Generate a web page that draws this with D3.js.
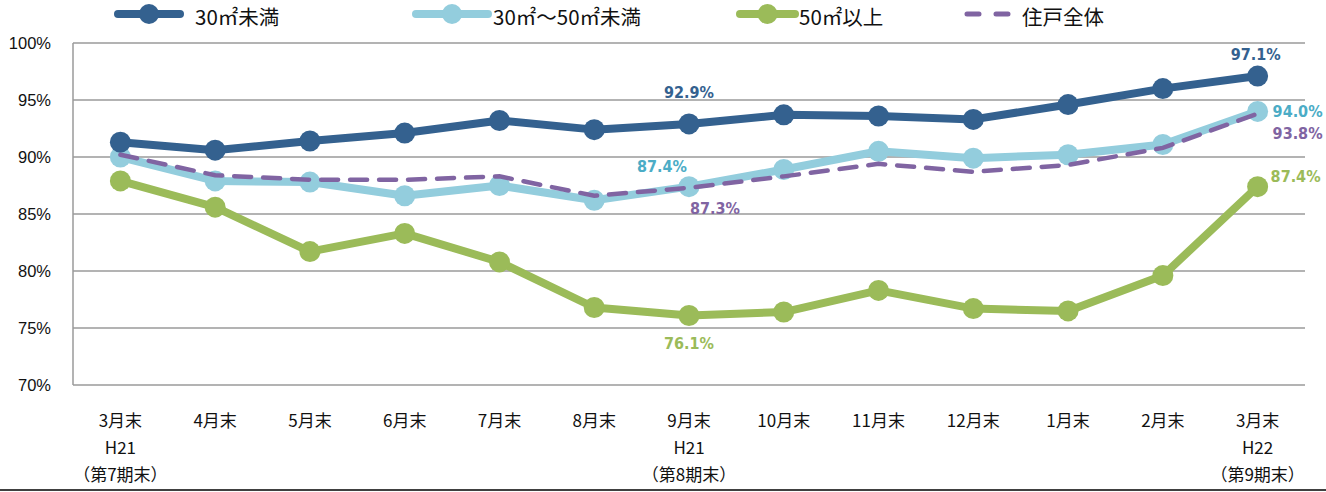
<!DOCTYPE html>
<html>
<head>
<meta charset="utf-8">
<script src="https://cdn.jsdelivr.net/npm/d3@7"></script>
<style>
  html, body { margin: 0; padding: 0; background: #fff; }
  svg { display: block; }
</style>
</head>
<body>
<svg id="chart" width="1326" height="492"></svg>
<script>
// Month-end labels (three text lines each)
const months = ["3月末", "4月末", "5月末", "6月末", "7月末", "8月末", "9月末", "10月末", "11月末", "12月末", "1月末", "2月末", "3月末"];
const yearLine = ["H21", "", "", "", "", "", "H21", "", "", "", "", "", "H22"];
const periodLine = ["（第7期末）", "", "", "", "", "", "（第8期末）", "", "", "", "", "", "（第9期末）"];

// Occupancy rates (%) by unit size
const under30 = [91.3, 90.6, 91.4, 92.1, 93.2, 92.4, 92.9, 93.7, 93.6, 93.3, 94.6, 96.0, 97.1];
const from30to50 = [90.0, 87.9, 87.8, 86.6, 87.5, 86.2, 87.4, 88.9, 90.5, 89.9, 90.2, 91.1, 94.0];
const over50 = [87.9, 85.6, 81.7, 83.3, 80.8, 76.8, 76.1, 76.4, 78.3, 76.7, 76.5, 79.6, 87.4];
const allUnits = [90.2, 88.4, 88.0, 88.0, 88.3, 86.6, 87.3, 88.3, 89.4, 88.7, 89.3, 90.8, 93.8];

const yTicks = [70, 75, 80, 85, 90, 95, 100];

(function () {
const svg = d3.select("#chart");
const plotLeft = 73, plotRight = 1305, plotTop = 43, plotBottom = 385;

const x = d3.scaleBand().domain(d3.range(months.length)).range([plotLeft, plotRight]);
const cx = i => x(i) + x.bandwidth() / 2;
const y = d3.scaleLinear().domain([70, 100]).range([plotBottom, plotTop]);

const gridColor = "#9a9a9a";
const fontJP = "'Noto Sans CJK JP', 'Noto Sans', sans-serif";

// Gridlines
svg.append("g").selectAll("line").data(yTicks).join("line")
  .attr("x1", plotLeft).attr("x2", plotRight)
  .attr("y1", d => y(d)).attr("y2", d => y(d))
  .attr("stroke", gridColor).attr("stroke-width", 1.5);

// Y axis line
svg.append("line").attr("x1", plotLeft).attr("x2", plotLeft).attr("y1", plotTop).attr("y2", plotBottom)
  .attr("stroke", gridColor).attr("stroke-width", 1.5);

// Y tick labels
svg.append("g").selectAll("text").data(yTicks).join("text")
  .attr("x", 51).attr("y", d => y(d) + 6)
  .attr("text-anchor", "end")
  .attr("font-family", "'Liberation Sans', Arial, sans-serif")
  .attr("font-size", 16.5)
  .attr("fill", "#111")
  .text(d => d + "%");

// X labels
const xl = svg.append("g").attr("font-family", fontJP).attr("font-size", 17).attr("fill", "#111").attr("text-anchor", "middle");
months.forEach((m, i) => {
  const t = xl.append("text").attr("x", cx(i)).attr("y", 427);
  t.append("tspan").attr("x", cx(i)).text(m);
  if (yearLine[i]) t.append("tspan").attr("x", cx(i)).attr("dy", 27).text(yearLine[i]);
  if (periodLine[i]) t.append("tspan").attr("x", cx(i)).attr("dy", 27).text(periodLine[i]);
});

// Bottom frame line
svg.append("line").attr("x1", 0).attr("x2", 1326).attr("y1", 490).attr("y2", 490)
  .attr("stroke", "#000").attr("stroke-width", 1.5);

const line = d3.line().x((d, i) => cx(i)).y(d => y(d));

const series = [
  { name: "30㎡未満", values: under30, color: "#34618f" },
  { name: "30㎡～50㎡未満", values: from30to50, color: "#93cddd" },
  { name: "50㎡以上", values: over50, color: "#9bbb59" }
];

// Solid series with markers (drawn bottom-up so the top series stays on top)
[series[2], series[1], series[0]].forEach(s => {
  svg.append("path").datum(s.values).attr("d", line)
    .attr("fill", "none").attr("stroke", s.color).attr("stroke-width", 8)
    .attr("stroke-linejoin", "round");
  svg.append("g").selectAll("circle").data(s.values).join("circle")
    .attr("cx", (d, i) => cx(i)).attr("cy", d => y(d)).attr("r", 10.5)
    .attr("fill", s.color);
});

// Overall (dashed)
svg.append("path").datum(allUnits).attr("d", line)
  .attr("fill", "none").attr("stroke", "#8064a2").attr("stroke-width", 4.5)
  .attr("stroke-dasharray", "17,12").attr("stroke-linecap", "round");

// Value labels
const labelFont = "'DejaVu Sans Condensed', 'DejaVu Sans', sans-serif";
const labels = [
  { v: under30[6], i: 6, dx: 0, dy: -26, anchor: "middle", color: "#34618f" },
  { v: from30to50[6], i: 6, dx: -27, dy: -15, anchor: "middle", color: "#4bacc6" },
  { v: allUnits[6], i: 6, dx: 26, dy: 26, anchor: "middle", color: "#8064a2" },
  { v: over50[6], i: 6, dx: 0, dy: 34, anchor: "middle", color: "#9bbb59" },
  { v: under30[12], i: 12, dx: -2, dy: -16, anchor: "middle", color: "#34618f" },
  { v: from30to50[12], i: 12, dx: 15, dy: 6, anchor: "start", color: "#4bacc6" },
  { v: allUnits[12], i: 12, dx: 15, dy: 25, anchor: "start", color: "#8064a2" },
  { v: over50[12], i: 12, dx: 13, dy: -5, anchor: "start", color: "#9bbb59" }
];
svg.append("g").selectAll("text").data(labels).join("text")
  .attr("x", d => cx(d.i) + d.dx).attr("y", d => y(d.v) + d.dy)
  .attr("text-anchor", d => d.anchor)
  .attr("font-family", labelFont).attr("font-weight", "bold").attr("font-size", 16)
  .attr("fill", d => d.color)
  .text(d => d.v.toFixed(1) + "%");

// Legend
const legendY = 14;
const legend = [
  { x1: 118, x2: 180, text: "30㎡未満", tx: 195, color: "#34618f", type: "solid" },
  { x1: 416, x2: 488, text: "30㎡～50㎡未満", tx: 493, color: "#93cddd", type: "solid" },
  { x1: 740, x2: 795, text: "50㎡以上", tx: 799, color: "#9bbb59", type: "solid" },
  { x1: 967, x2: 1008, text: "住戸全体", tx: 1022, color: "#8064a2", type: "dash" }
];
const lg = svg.append("g");
legend.forEach(l => {
  if (l.type === "solid") {
    lg.append("line").attr("x1", l.x1).attr("x2", l.x2).attr("y1", legendY).attr("y2", legendY)
      .attr("stroke", l.color).attr("stroke-width", 8).attr("stroke-linecap", "round");
    lg.append("circle").attr("cx", (l.x1 + l.x2) / 2).attr("cy", legendY).attr("r", 10).attr("fill", l.color);
  } else {
    lg.append("line").attr("x1", l.x1).attr("x2", l.x2).attr("y1", legendY).attr("y2", legendY)
      .attr("stroke", l.color).attr("stroke-width", 5).attr("stroke-dasharray", "12,17")
      .attr("stroke-linecap", "round");
  }
  lg.append("text").attr("x", l.tx).attr("y", 25)
    .attr("font-family", fontJP).attr("font-size", 20.5).attr("fill", "#111")
    .text(l.text);
});
})();
</script>
</body>
</html>
